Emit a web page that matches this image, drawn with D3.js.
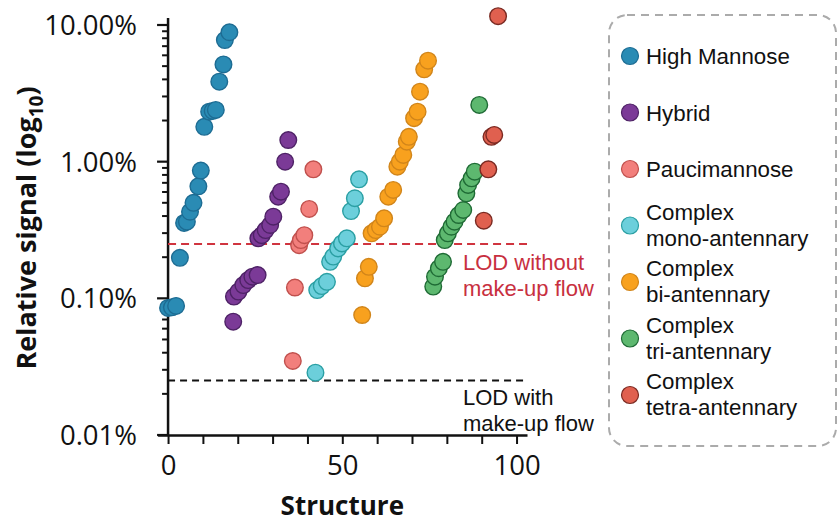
<!DOCTYPE html>
<html>
<head>
<meta charset="utf-8">
<script src="https://cdn.jsdelivr.net/npm/d3@7"></script>
<style>
  body { margin: 0; background: #fff; }
  svg text { fill: #111; }
</style>
</head>
<body>
<div id="chart"></div>
<script>
// glycan classes and their colours
var groups = ["High Mannose", "Hybrid", "Paucimannose", "Complex mono-antennary",
  "Complex bi-antennary", "Complex tri-antennary", "Complex tetra-antennary"];
var fills = ["#2a8bb4", "#7b3a97", "#f27f7c", "#6ccfdb", "#f8a11e", "#5db86f", "#e0604f"];
var strokes = ["#1d6c93", "#4e2266", "#c0504d", "#2a9fa3", "#d1851a", "#1f6b35", "#7a2a22"];

// structure index / relative signal (%) for each class
var hmX = [0, 1.1, 2.3, 3.4, 4.6, 5.4, 6.3, 7.3, 8.7, 9.4, 10.4, 11.8, 12.8, 13.7, 14.7, 15.9, 16.3, 17.6];
var hmY = [0.085, 0.086, 0.088, 0.198, 0.356, 0.364, 0.43, 0.50, 0.66, 0.86, 1.80, 2.32, 2.35, 2.39, 3.85, 5.15, 7.76, 8.85];

var hyX = [18.7, 18.9, 20.2, 21.6, 23.0, 24.2, 25.7, 25.9, 26.9, 28.0, 29.3, 30.2, 31.6, 32.4, 33.6, 34.5];
var hyY = [0.0675, 0.103, 0.112, 0.125, 0.136, 0.144, 0.148, 0.275, 0.29, 0.316, 0.344, 0.396, 0.554, 0.603, 1.00, 1.44];

var paX = [35.8, 36.4, 37.6, 38.1, 39.1, 40.5, 41.7];
var paY = [0.0348, 0.120, 0.245, 0.267, 0.29, 0.451, 0.879];

var moX = [42.3, 42.8, 44.1, 45.6, 46.5, 47.4, 48.8, 49.9, 51.3, 52.5, 53.6, 54.8];
var moY = [0.0286, 0.115, 0.123, 0.132, 0.185, 0.202, 0.232, 0.252, 0.275, 0.435, 0.54, 0.743];

var biX = [55.7, 56.5, 57.6, 58.4, 59.6, 60.8, 62.0, 63.2, 64.6, 65.8, 66.5, 67.5, 68.5, 69.1, 70.6, 71.6, 72.3, 73.5, 74.6];
var biY = [0.0755, 0.140, 0.170, 0.299, 0.316, 0.334, 0.385, 0.554, 0.621, 0.919, 1.00, 1.12, 1.40, 1.52, 2.08, 2.32, 3.25, 4.74, 5.48];

var triX = [76.1, 76.6, 77.7, 78.9, 79.4, 80.3, 81.3, 82.2, 83.4, 84.7, 85.6, 86.1, 87.1, 88.0, 89.3];
var triY = [0.122, 0.144, 0.166, 0.185, 0.267, 0.299, 0.334, 0.364, 0.407, 0.443, 0.587, 0.675, 0.755, 0.845, 2.60];

var teX = [90.6, 91.9, 92.8, 93.6, 94.7];
var teY = [0.370, 0.879, 1.52, 1.57, 11.6];

// limits of detection (%)
var lodWithout = 0.25;
var lodWith = 0.025;

var yTicks = [0.01, 0.1, 1, 10];
var yTickLabels = ["0.01%", "0.10%", "1.00%", "10.00%"];
var xTickLabels = { 0: "0", 50: "50", 100: "100" };

var allX = [hmX, hyX, paX, moX, biX, triX, teX];
var allY = [hmY, hyY, paY, moY, biY, triY, teY];

var svgWidth = 838, svgHeight = 523;

var svg = d3.select("#chart").append("svg")
  .attr("width", svgWidth)
  .attr("height", svgHeight);

var xScale = d3.scaleLinear().domain([-3, 103]).range([157.6, 527]);
var yScale = d3.scaleLog().domain([0.01, 10]).range([435, 25]);

var sans = "'Open Sans', 'DejaVu Sans', sans-serif";
var arial = "'Liberation Sans', Arial, sans-serif";

// minor ticks for the log axis
var minorY = [];
[0.01, 0.1, 1].forEach(function(d) {
  for (var k = 2; k <= 9; k++) minorY.push(d * k);
});

var yAxisG = svg.append("g").attr("transform", "translate(" + xScale(0) + ",0)");
yAxisG.append("line")
  .attr("y1", yScale(10) - 7).attr("y2", yScale(0.01) + 1)
  .attr("stroke", "#111").attr("stroke-width", 2.5);
yAxisG.selectAll(".minor").data(minorY).enter().append("line")
  .attr("x1", -6).attr("x2", 0)
  .attr("y1", function(d) { return yScale(d); })
  .attr("y2", function(d) { return yScale(d); })
  .attr("stroke", "#111").attr("stroke-width", 2);
yAxisG.selectAll(".major").data(yTicks).enter().append("line")
  .attr("x1", -11).attr("x2", 0)
  .attr("y1", function(d) { return yScale(d); })
  .attr("y2", function(d) { return yScale(d); })
  .attr("stroke", "#111").attr("stroke-width", 2.2);
yAxisG.selectAll(".lab").data(yTicks).enter().append("text")
  .attr("x", -31)
  .attr("y", function(d) { return yScale(d); })
  .attr("dy", "0.36em")
  .attr("text-anchor", "end")
  .style("font-family", sans)
  .style("font-size", "27.5px")
  .text(function(d, i) { return yTickLabels[i]; });

// x axis
var xAxis = d3.axisBottom(xScale)
  .tickValues(d3.range(0, 101, 10))
  .tickSize(9)
  .tickSizeOuter(0)
  .tickFormat(function(d) { return xTickLabels[d] || ""; });
var xAxisG = svg.append("g")
  .attr("transform", "translate(0," + yScale(0.01) + ")")
  .call(xAxis);
xAxisG.select(".domain").attr("stroke", "#111").attr("stroke-width", 2.5);
xAxisG.selectAll(".tick line").attr("stroke", "#111").attr("stroke-width", 2);
xAxisG.selectAll(".tick text")
  .attr("y", 20)
  .style("font-family", sans)
  .style("font-size", "27.5px")
  .style("fill", "#111");

// axis titles
svg.append("text")
  .attr("x", xScale(50))
  .attr("y", 515)
  .attr("text-anchor", "middle")
  .style("font-family", sans)
  .style("font-weight", "bold")
  .style("font-size", "26px")
  .text("Structure");

var yTitle = svg.append("text")
  .attr("transform", "translate(36,228) rotate(-90)")
  .attr("text-anchor", "middle")
  .style("font-family", sans)
  .style("font-weight", "bold")
  .style("font-size", "27px");
yTitle.append("tspan").text("Relative signal (log");
yTitle.append("tspan").attr("dy", 7).style("font-size", "19px").text("10");
yTitle.append("tspan").attr("dy", -7).text(")");

// LOD lines
svg.append("line")
  .attr("x1", xScale(0)).attr("x2", xScale(103))
  .attr("y1", yScale(lodWithout)).attr("y2", yScale(lodWithout))
  .attr("stroke", "#d0343f").attr("stroke-width", 2)
  .attr("stroke-dasharray", "8,5");
svg.append("line")
  .attr("x1", xScale(0)).attr("x2", xScale(103))
  .attr("y1", yScale(lodWith)).attr("y2", yScale(lodWith))
  .attr("stroke", "#111").attr("stroke-width", 2)
  .attr("stroke-dasharray", "7,5");

var lodRed = svg.append("text")
  .style("font-family", arial).style("font-size", "22px").style("fill", "#c8303f");
lodRed.append("tspan").attr("x", 463).attr("y", 270).text("LOD without");
lodRed.append("tspan").attr("x", 463).attr("y", 296).text("make-up flow");

var lodBlack = svg.append("text")
  .style("font-family", arial).style("font-size", "22px");
lodBlack.append("tspan").attr("x", 463).attr("y", 405).text("LOD with");
lodBlack.append("tspan").attr("x", 463).attr("y", 431).text("make-up flow");

// points
var points = [];
allX.forEach(function(xs, g) {
  xs.forEach(function(x, i) { points.push({ g: g, x: x, y: allY[g][i] }); });
});

svg.append("g").selectAll("circle")
  .data(points)
  .enter().append("circle")
  .attr("cx", function(d) { return xScale(d.x); })
  .attr("cy", function(d) { return yScale(d.y); })
  .attr("r", 8.3)
  .attr("fill", function(d) { return fills[d.g]; })
  .attr("stroke", function(d) { return strokes[d.g]; })
  .attr("stroke-width", 1.4);

// legend
svg.append("rect")
  .attr("x", 609).attr("y", 15)
  .attr("width", 227).attr("height", 431)
  .attr("rx", 18)
  .attr("fill", "none")
  .attr("stroke", "#ababab")
  .attr("stroke-width", 2)
  .attr("stroke-dasharray", "8,6");

var legend = svg.append("g").selectAll("g")
  .data(groups)
  .enter().append("g")
  .attr("transform", function(d, i) { return "translate(630," + (56 + i * 56.5) + ")"; });

legend.append("circle")
  .attr("r", 8.5)
  .attr("fill", function(d, i) { return fills[i]; })
  .attr("stroke", function(d, i) { return strokes[i]; })
  .attr("stroke-width", 1.2);

legend.each(function(d) {
  var t = d3.select(this).append("text")
    .attr("x", 16)
    .style("font-family", arial)
    .style("font-size", "22.3px");
  if (d.indexOf("Complex ") === 0) {
    t.append("tspan").attr("x", 16).attr("y", -6).text("Complex");
    t.append("tspan").attr("x", 16).attr("y", 20).text(d.slice(8));
  } else {
    t.attr("y", 8).text(d);
  }
});
</script>
</body>
</html>
